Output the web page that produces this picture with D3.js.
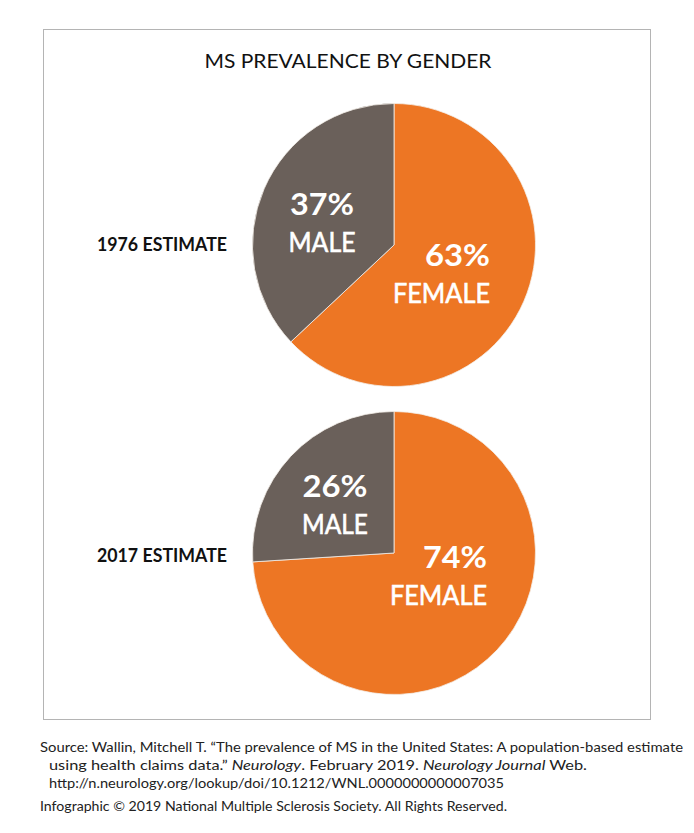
<!DOCTYPE html>
<html>
<head>
<meta charset="utf-8">
<script src="https://cdn.jsdelivr.net/npm/d3@7"></script>
<style>
  html, body { margin: 0; padding: 0; background: #fff; }
  svg { display: block; }
  text { font-family: Lato, "Open Sans", sans-serif; }
</style>
</head>
<body>
<svg id="chart" width="694" height="833"></svg>
<script>
// ---- data ----
const title = "MS PREVALENCE BY GENDER";
const estimates = ["1976 ESTIMATE", "2017 ESTIMATE"];
const genders = ["FEMALE", "MALE"];
const femaleShare = [63, 74];
const maleShare = [37, 26];
const sourceLines = [
  [{t: "Source: Wallin, Mitchell T. \u201CThe prevalence of MS in the United States: A population-based estimate"}],
  [{t: "using health claims data.\u201D "}, {t: "Neurology", i: true}, {t: ". February 2019. "}, {t: "Neurology Journal", i: true}, {t: " Web."}],
  [{t: "http://n.neurology.org/lookup/doi/10.1212/WNL.0000000000007035"}]
];
const credit = "Infographic \u00A9 2019 National Multiple Sclerosis Society. All Rights Reserved.";

// ---- layout ----
const svg = d3.select("#chart");
const W = 694, H = 833;
svg.append("rect").attr("width", W).attr("height", H).attr("fill", "#fff");
svg.append("rect")
  .attr("x", 43.5).attr("y", 29.5).attr("width", 607).attr("height", 690)
  .attr("fill", "none").attr("stroke", "#b4b4b4").attr("stroke-width", 1);

svg.append("text").text(title)
  .attr("x", 348).attr("y", 68).attr("text-anchor", "middle")
  .attr("font-size", 18.5).attr("fill", "#111")
  .attr("textLength", 287).attr("lengthAdjust", "spacingAndGlyphs");

const color = d3.scaleOrdinal().domain(genders).range(["#ED7624", "#6A605A"]);
const pie = d3.pie().sort(null).value(d => d.value);
const R = 141.5;
const arc = d3.arc().innerRadius(0).outerRadius(R);

const centers = [{x: 394, y: 245}, {x: 394, y: 553}];
const estY = [251, 562];
// label placement offsets relative to pie center (layout, not data)
const labelPos = [
  {MALE: {x: -72, y: -30, anchor: "middle", pw: 64, lw: 67},
   FEMALE: {x: 96, y: 21, anchor: "end", pw: 65, lw: 97}},
  {MALE: {x: -59, y: -56, anchor: "middle", pw: 65, lw: 66},
   FEMALE: {x: 93, y: 15, anchor: "end", pw: 64, lw: 97}}
];

estimates.forEach((est, i) => {
  const data = [
    {gender: "FEMALE", value: femaleShare[i]},
    {gender: "MALE", value: maleShare[i]}
  ];
  const c = centers[i];
  const g = svg.append("g").attr("transform", `translate(${c.x},${c.y})`);
  const arcs = pie(data);
  g.selectAll("path").data(arcs).join("path")
    .attr("d", arc)
    .attr("fill", d => color(d.data.gender))
    .attr("stroke", "#f4efe9").attr("stroke-width", 0.8);

  arcs.forEach(a => {
    const p = labelPos[i][a.data.gender];
    g.append("text").text(a.data.value + "%")
      .attr("x", p.x).attr("y", p.y)
      .attr("text-anchor", p.anchor)
      .attr("font-size", 30).attr("font-weight", 700).attr("fill", "#fff")
      .attr("textLength", p.pw).attr("lengthAdjust", "spacingAndGlyphs");
    g.append("text").text(a.data.gender)
      .attr("x", p.x).attr("y", p.y + 37)
      .attr("text-anchor", p.anchor)
      .attr("font-size", 27).attr("font-weight", 400).attr("fill", "#fff")
      .attr("stroke", "#fff").attr("stroke-width", 0.6)
      .attr("textLength", p.lw).attr("lengthAdjust", "spacingAndGlyphs");
  });

  svg.append("text").text(est)
    .attr("x", 97).attr("y", estY[i])
    .attr("font-size", 18).attr("font-weight", 700).attr("fill", "#111")
    .attr("textLength", 130).attr("lengthAdjust", "spacingAndGlyphs");
});

// ---- source ----
const srcX = [40, 49, 49];
const srcY = [752, 770, 788];
const srcW = [643, 538, 455];
sourceLines.forEach((line, k) => {
  const t = svg.append("text")
    .attr("x", srcX[k]).attr("y", srcY[k])
    .attr("font-size", 13.5).attr("fill", "#222")
    .attr("textLength", srcW[k]).attr("lengthAdjust", "spacingAndGlyphs");
  line.forEach(seg => {
    t.append("tspan").text(seg.t).attr("font-style", seg.i ? "italic" : "normal");
  });
});
svg.append("text").text(credit)
  .attr("x", 40).attr("y", 811)
  .attr("font-size", 13.5).attr("fill", "#222")
  .attr("textLength", 467).attr("lengthAdjust", "spacingAndGlyphs");
</script>
</body>
</html>
